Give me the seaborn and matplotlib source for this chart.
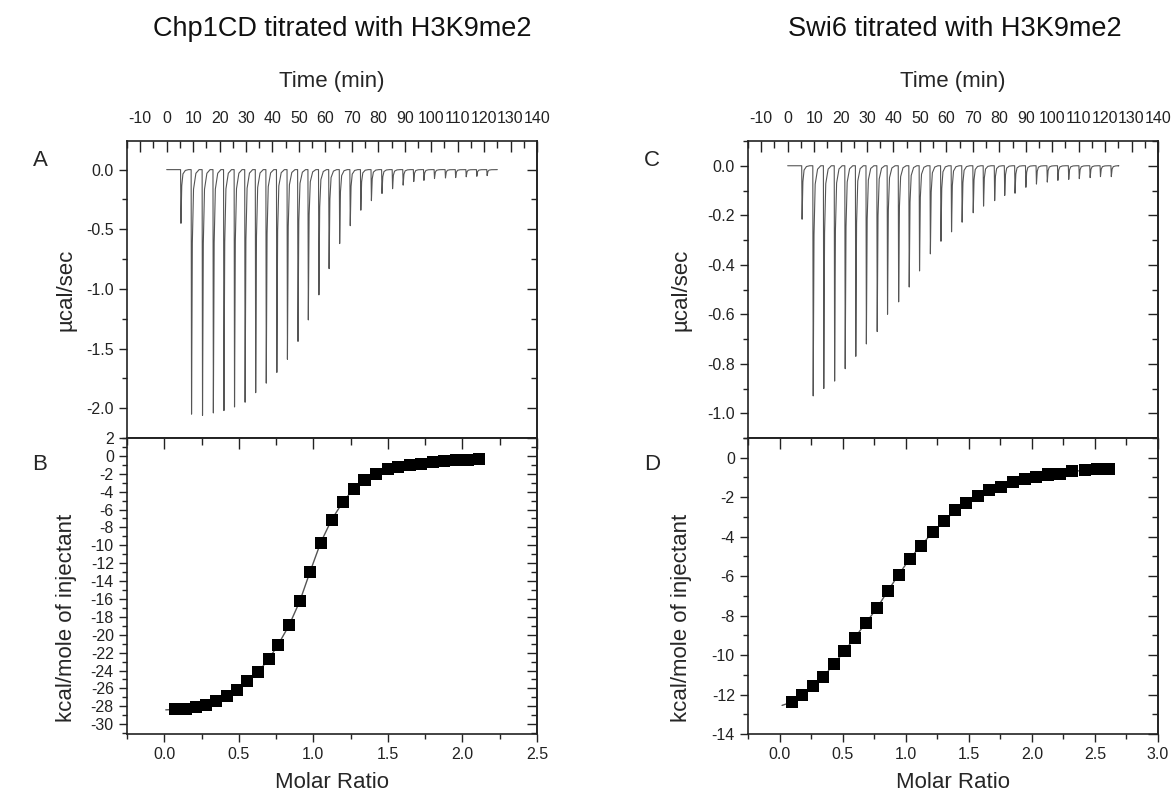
import pandas as pd
import seaborn as sns
import matplotlib.pyplot as plt
from matplotlib.ticker import MultipleLocator, FormatStrFormatter

# raw thermogram: injection times (min) and peak heights (ucal/sec)
inj_time_A = [5.25, 9.25, 13.4, 17.5, 21.5, 25.5, 29.5, 33.5, 37.5, 41.5, 45.5, 49.5, 53.4, 57.4, 61.25,
              65.25, 69.25, 73.25, 77.25, 81.25, 85.25, 89.25, 93.25, 97.1, 101.1, 105.25, 109.1, 113.1, 117.1, 121.0]
peak_A = [-0.45, -2.05, -2.06, -2.04, -2.02, -1.99, -1.95, -1.87, -1.79, -1.70, -1.59, -1.44, -1.26, -1.05, -0.83,
          -0.62, -0.47, -0.34, -0.26, -0.20, -0.16, -0.13, -0.10, -0.09, -0.075, -0.07, -0.067, -0.06, -0.056, -0.05]
inj_time_C = [5.3, 9.5, 13.5, 17.6, 21.6, 25.6, 29.6, 33.7, 37.6, 41.8, 45.8, 49.7, 53.8, 57.8, 61.8,
              65.8, 70.0, 73.9, 78.1, 81.9, 85.8, 89.9, 93.9, 98.0, 102.0, 106.1, 110.1, 114.2, 118.1, 122.2]
peak_C = [-0.216, -0.93, -0.90, -0.87, -0.82, -0.77, -0.72, -0.67, -0.60, -0.55, -0.49, -0.425, -0.356, -0.305, -0.267,
          -0.228, -0.19, -0.163, -0.141, -0.12, -0.111, -0.087, -0.074, -0.066, -0.059, -0.055, -0.052, -0.048, -0.044, -0.044]
run_end = 125

# integrated heats (kcal/mole of injectant) vs molar ratio
ratio_B = [0.072, 0.144, 0.21, 0.28, 0.35, 0.42, 0.486, 0.555, 0.63, 0.70, 0.764, 0.837, 0.909, 0.978, 1.049,
           1.122, 1.198, 1.27, 1.343, 1.417, 1.498, 1.57, 1.65, 1.725, 1.80, 1.877, 1.955, 2.035, 2.11]
heat_B = [-28.35, -28.35, -28.1, -27.85, -27.45, -26.9, -26.15, -25.2, -24.15, -22.75, -21.1, -18.95, -16.25, -12.95, -9.7,
          -7.15, -5.15, -3.7, -2.75, -2.0, -1.5, -1.24, -1.05, -0.87, -0.71, -0.57, -0.49, -0.42, -0.34]
ratio_D = [0.095, 0.18, 0.264, 0.348, 0.43, 0.515, 0.596, 0.686, 0.773, 0.86, 0.945, 1.032, 1.12, 1.214, 1.304,
           1.394, 1.48, 1.57, 1.663, 1.758, 1.847, 1.942, 2.035, 2.13, 2.225, 2.32, 2.42, 2.518, 2.613]
heat_D = [-12.39, -12.0, -11.58, -11.11, -10.45, -9.8, -9.12, -8.36, -7.61, -6.73, -5.92, -5.12, -4.46, -3.78, -3.22,
          -2.66, -2.29, -1.95, -1.64, -1.47, -1.25, -1.1, -0.98, -0.85, -0.81, -0.69, -0.64, -0.58, -0.57]
fit_start_B = (0.01, -28.4)
fit_start_D = (0.02, -12.55)

sns.set_theme(style='ticks')
plt.rcParams['font.family'] = ['Liberation Sans', 'DejaVu Sans']
plt.rcParams['axes.unicode_minus'] = False
plt.rcParams['axes.edgecolor'] = '#222222'
plt.rcParams['axes.linewidth'] = 1.2


def thermogram(times, peaks):
    # spike shape for each injection: fast drop, decay back to baseline
    t, y = [0], [0]
    for ti, p in zip(times, peaks):
        t += [ti, ti + 0.15, ti + 0.45, ti + 0.9, ti + 1.8, ti + 3.0]
        y += [0, p, 0.3 * p, 0.08 * p, 0.015 * p, 0]
    t.append(run_end)
    y.append(0)
    return pd.DataFrame({'time': t, 'power': y})


def frame(ax, xmaj, xmin, ymaj, ymin, top_axis):
    ax.xaxis.set_major_locator(MultipleLocator(xmaj))
    ax.xaxis.set_minor_locator(MultipleLocator(xmin))
    ax.yaxis.set_major_locator(MultipleLocator(ymaj))
    ax.yaxis.set_minor_locator(MultipleLocator(ymin))
    ax.tick_params(axis='y', which='both', direction='out', right=False, labelsize=11.5, colors='#222222')
    ax.tick_params(axis='y', which='major', length=6, width=1)
    ax.tick_params(axis='y', which='minor', length=3.5, width=1)
    if top_axis:
        ax.xaxis.set_label_position('top')
        ax.tick_params(axis='x', which='both', direction='in', top=True, bottom=False,
                       labeltop=True, labelbottom=False, labelsize=11.5, colors='#222222', pad=11)
        ax.tick_params(axis='x', which='major', length=8, width=1)
        ax.tick_params(axis='x', which='minor', length=5, width=1)
    else:
        ax.tick_params(axis='x', which='both', direction='out', top=False, labelsize=11.5, colors='#222222')
        ax.tick_params(axis='x', which='major', length=6, width=1)
        ax.tick_params(axis='x', which='minor', length=3.5, width=1)
        sx = ax.secondary_xaxis('top')
        sx.xaxis.set_major_locator(MultipleLocator(xmaj))
        sx.xaxis.set_minor_locator(MultipleLocator(xmin))
        sx.tick_params(which='both', direction='in', labeltop=False, colors='#222222')
        sx.tick_params(which='major', length=8, width=1)
        sx.tick_params(which='minor', length=5, width=1)
    sy = ax.secondary_yaxis('right')
    sy.yaxis.set_major_locator(MultipleLocator(ymaj))
    sy.yaxis.set_minor_locator(MultipleLocator(ymin))
    sy.tick_params(which='both', direction='in', labelright=False, colors='#222222')
    sy.tick_params(which='major', length=7, width=1)
    sy.tick_params(which='minor', length=4, width=1)


W, H = 1173, 802
fig = plt.figure(figsize=(W / 100, H / 100), dpi=100)


def box(x0, x1, y0, y1):
    return [x0 / W, 1 - y1 / H, (x1 - x0) / W, (y1 - y0) / H]


panels = [
    dict(x0=127, x1=537, raw=(inj_time_A, peak_A), fit=(ratio_B, heat_B, fit_start_B),
         raw_ylim=(-2.25, 0.24), raw_ymaj=0.5, fit_ylim=(-31.1, 2), fit_xlim=(-0.25, 2.5),
         title='Chp1CD titrated with H3K9me2', title_x=342,
         ylab_x=77, letter_x=40, letters=('A', 'B')),
    dict(x0=748, x1=1158, raw=(inj_time_C, peak_C), fit=(ratio_D, heat_D, fit_start_D),
         raw_ylim=(-1.1, 0.1), raw_ymaj=0.2, fit_ylim=(-14, 1), fit_xlim=(-0.25, 3.0),
         title='Swi6 titrated with H3K9me2', title_x=955,
         ylab_x=692, letter_x=652, letters=('C', 'D')),
]

for p in panels:
    w = p['x1'] - p['x0']
    ax1 = fig.add_axes(box(p['x0'], p['x1'], 141, 438))
    ax2 = fig.add_axes(box(p['x0'], p['x1'], 438, 734))

    df = thermogram(*p['raw'])
    sns.lineplot(data=df, x='time', y='power', ax=ax1, sort=False, estimator=None,
                 color='#555555', linewidth=0.8)
    ax1.set_xlim(-15, 140)
    ax1.set_ylim(*p['raw_ylim'])
    frame(ax1, 10, 5, p['raw_ymaj'], p['raw_ymaj'] / 2, top_axis=True)
    ax1.yaxis.set_major_formatter(FormatStrFormatter('%.1f'))
    ax1.set_xlabel('Time (min)', fontsize=16)
    ax1.xaxis.set_label_coords(0.5, 1 + (141 - 81) / 297)
    ax1.xaxis.label.set_va('center')
    ax1.set_ylabel('µcal/sec', fontsize=16)
    ax1.yaxis.set_label_coords((p['ylab_x'] - p['x0']) / w, 0.5)

    rx, hy, st = p['fit']
    fit_df = pd.DataFrame({'ratio': [st[0]] + rx, 'heat': [st[1]] + hy})
    pts = pd.DataFrame({'ratio': rx, 'heat': hy})
    sns.lineplot(data=fit_df, x='ratio', y='heat', ax=ax2, sort=False, estimator=None,
                 color='#555555', linewidth=1.0)
    sns.scatterplot(data=pts, x='ratio', y='heat', ax=ax2, marker='s', s=75,
                    color='black', edgecolor='none', zorder=3)
    ax2.set_xlim(*p['fit_xlim'])
    ax2.set_ylim(*p['fit_ylim'])
    frame(ax2, 0.5, 0.25, 2, 1, top_axis=False)
    ax2.xaxis.set_major_formatter(FormatStrFormatter('%.1f'))
    ax2.yaxis.set_major_formatter(FormatStrFormatter('%d'))
    ax2.set_xlabel('Molar Ratio', fontsize=16)
    ax2.xaxis.set_label_coords(0.5, -(782 - 734) / 296)
    ax2.xaxis.label.set_va('center')
    ax2.set_ylabel('kcal/mole of injectant', fontsize=16)
    ax2.yaxis.set_label_coords((p['ylab_x'] - p['x0']) / w, (734 - 618) / 296)

    fig.text(p['title_x'] / W, 1 - 36 / H, p['title'], ha='center', va='baseline', fontsize=19.5, color='#111111')
    fig.text(p['letter_x'] / W, 1 - 160 / H, p['letters'][0], ha='center', va='center', fontsize=16)
    fig.text(p['letter_x'] / W, 1 - 465 / H, p['letters'][1], ha='center', va='center', fontsize=16)

fig.savefig('out.png', dpi=100)
